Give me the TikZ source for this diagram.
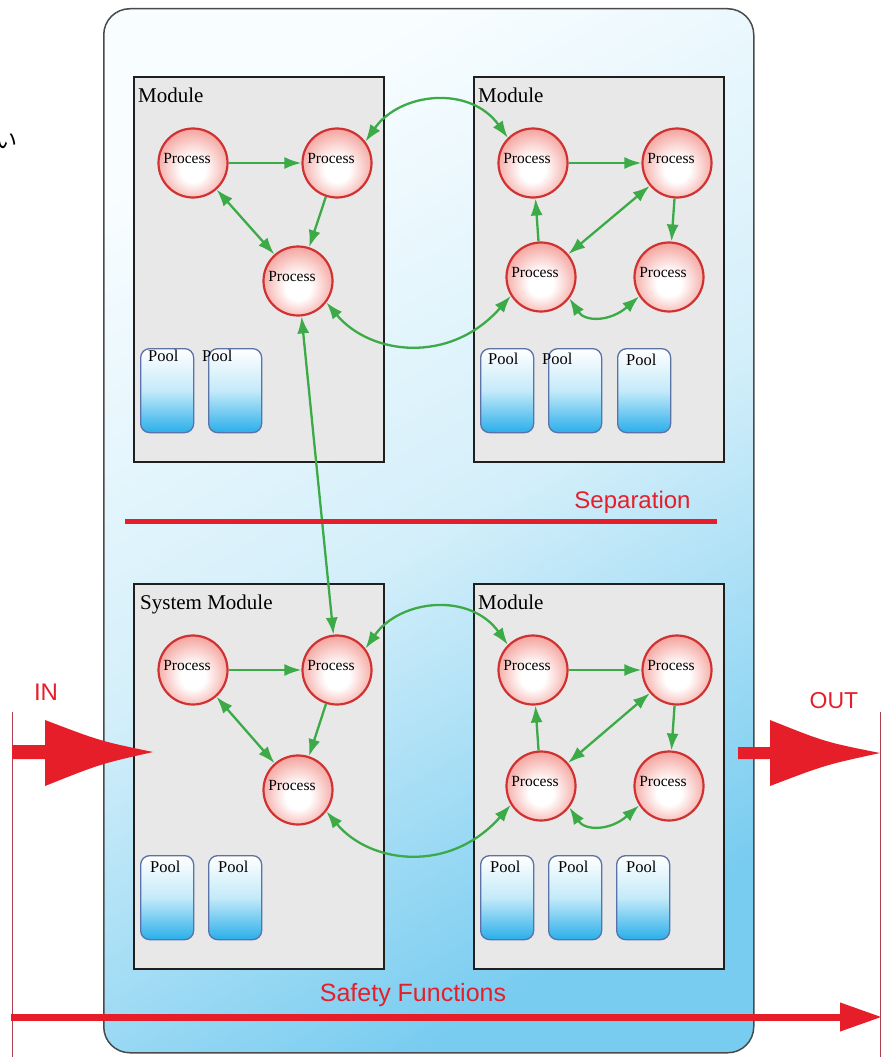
\documentclass[tikz,border=0pt]{standalone}
\usepackage{fontspec}
\setmainfont{Liberation Serif}
\newfontfamily\redsans{Liberation Sans}
\newfontfamily\cjkfont{Noto Sans CJK JP}
\usetikzlibrary{arrows.meta}
\definecolor{sysbd}{HTML}{4A4A4A}
\definecolor{systop}{HTML}{F8FDFF}
\definecolor{sysmid}{HTML}{D4EFFA}
\definecolor{sysbot}{HTML}{78CCF0}
\definecolor{modgray}{HTML}{E8E8E8}
\definecolor{procbd}{HTML}{D03232}
\definecolor{procmid}{HTML}{F4A29C}
\definecolor{procrim}{HTML}{EB6660}
\definecolor{procout}{HTML}{E65454}
\definecolor{poolbd}{HTML}{5A72A8}
\definecolor{poolmid}{HTML}{C4EAF9}
\definecolor{poolblue}{HTML}{2AAEEA}
\definecolor{grn}{HTML}{3BAA47}
\definecolor{redc}{HTML}{E61E2A}
\definecolor{thinred}{HTML}{B04050}
\pgfdeclareradialshading{procshade}{\pgfpoint{0bp}{-6bp}}{color(0bp)=(white); color(9bp)=(white); color(28bp)=(procmid); color(43bp)=(procrim); color(50bp)=(procout)}
\tikzset{
  sysbox/.style={draw=sysbd, line width=1.5pt, rounded corners=26pt,
    minimum width=650pt, minimum height=1044pt, inner sep=0pt, anchor=north west,
    top color=systop, bottom color=sysbot, middle color=sysmid, shading angle=30},
  modbox/.style={draw=black!88, line width=2pt, fill=modgray, minimum width=250pt,
    minimum height=385pt, inner sep=0pt, anchor=north west},
  modlabel/.style={font=\fontsize{21}{21}\selectfont, anchor=base west, inner sep=0pt},
  proc/.style={circle, draw=procbd, line width=2.2pt, shade, shading=procshade,
    minimum size=69pt, inner sep=0pt,
    label={[font=\fontsize{15.5}{15.5}\selectfont, xshift=-6pt, yshift=5pt, inner sep=0pt]center:Process}},
  poolbox/.style={draw=poolbd, line width=1.3pt, rounded corners=9pt, minimum width=53pt,
    minimum height=84pt, inner sep=0pt, anchor=north west,
    top color=white, bottom color=poolblue, middle color=poolmid},
  poollabel/.style={font=\fontsize{16.5}{16.5}\selectfont, anchor=base west, inner sep=0pt},
  garrow/.style={draw=grn, line width=2.3pt, -{Latex[length=17pt,width=12pt]}},
  gboth/.style={draw=grn, line width=2.3pt, {Latex[length=17pt,width=12pt]}-{Latex[length=17pt,width=12pt]}},
  redtext/.style={text=redc, inner sep=0pt, anchor=base},
  thinline/.style={draw=thinred, line width=0.9pt},
  bigred/.style={fill=redc},
}
\begin{document}
\begin{tikzpicture}[x=1pt,y=-1pt]
\useasboundingbox (0,0) rectangle (887,1057);
\fill[white] (0,0) rectangle (887,1057);

% partial glyph at the left edge
\node[font=\cjkfont\fontsize{22}{22}\selectfont, inner sep=0pt] (jp) at (6,141) {い};

% system frame
\node[sysbox] (sys) at (103,8) {};

% modules
\node[modbox] (m1) at (133,76) {};
\node[modbox] (m2) at (473,76) {};
\node[modbox] (m3) at (133,583) {};
\node[modbox] (m4) at (473,583) {};
\node[modlabel] (m1l) at (138,102) {Module};
\node[modlabel] (m2l) at (478,102) {Module};
\node[modlabel] (m3l) at (140,609) {System Module};
\node[modlabel] (m4l) at (478,609) {Module};

% pools
\node[poolbox] (p11) at (140,348) {};
\node[poolbox] (p12) at (208,348) {};
\node[poolbox] (p21) at (480,348) {};
\node[poolbox] (p22) at (548,348) {};
\node[poolbox] (p23) at (617,348) {};
\node[poolbox] (p31) at (140,855) {};
\node[poolbox] (p32) at (208,855) {};
\node[poolbox] (p41) at (480,855) {};
\node[poolbox] (p42) at (548,855) {};
\node[poolbox] (p43) at (616,855) {};
\node[poollabel] at (148,361) {Pool};
\node[poollabel] at (202,361) {Pool};
\node[poollabel] at (488,364) {Pool};
\node[poollabel] at (542,364) {Pool};
\node[poollabel] at (626,365) {Pool};
\node[poollabel] at (150,872) {Pool};
\node[poollabel] at (218,872) {Pool};
\node[poollabel] at (490,872) {Pool};
\node[poollabel] at (558,872) {Pool};
\node[poollabel] at (626,872) {Pool};

% processes
\node[proc] (tl1) at (193,163) {};
\node[proc] (tl2) at (337,163) {};
\node[proc] (tl3) at (298,281) {};
\node[proc] (tr1) at (533,163) {};
\node[proc] (tr2) at (677,163) {};
\node[proc] (tr3) at (541,277) {};
\node[proc] (tr4) at (669,277) {};
\node[proc] (bl1) at (193,670) {};
\node[proc] (bl2) at (337,670) {};
\node[proc] (bl3) at (298,790) {};
\node[proc] (br1) at (533,670) {};
\node[proc] (br2) at (677,670) {};
\node[proc] (br3) at (541,786) {};
\node[proc] (br4) at (669,786) {};

% green connectors, top half
\draw[garrow] (tl1) -- (tl2);
\draw[garrow] (tl2) -- (tl3);
\draw[gboth] (tl1) -- (tl3);
\draw[gboth] (tl2.37) .. controls (400,92) and (470,85) .. (tr1.135);
\draw[gboth] (tl3.-37) .. controls (370,355) and (450,365) .. (tr3.-148);
\draw[garrow] (tr1) -- (tr2);
\draw[garrow] (tr2) -- (tr4);
\draw[garrow] (tr3) -- (tr1);
\draw[gboth] (tr2) -- (tr3);
\draw[gboth] (tr3.-37) .. controls (585,322) and (610,322) .. (tr4.-147);
% between halves
\draw[gboth] (tl3) -- (bl2);
% bottom half
\draw[garrow] (bl1) -- (bl2);
\draw[garrow] (bl2) -- (bl3);
\draw[gboth] (bl1) -- (bl3);
\draw[gboth] (bl2.37) .. controls (400,599) and (470,592) .. (br1.135);
\draw[gboth] (bl3.-37) .. controls (370,864) and (450,874) .. (br3.-148);
\draw[garrow] (br1) -- (br2);
\draw[garrow] (br2) -- (br4);
\draw[garrow] (br3) -- (br1);
\draw[gboth] (br2) -- (br3);
\draw[gboth] (br3.-37) .. controls (585,831) and (610,831) .. (br4.-147);

% separation
\coordinate (sepL) at (125,521);
\coordinate (sepR) at (717,521);
\draw[draw=redc, line width=5pt] (sepL) -- (sepR);
\node[redtext, font=\redsans\fontsize{24}{24}\selectfont] (sepT) at (632.5,508) {Separation};

% thin boundary lines
\coordinate (lt) at (12,712);
\coordinate (lb) at (12,1057);
\coordinate (rt) at (880,712);
\coordinate (rb) at (880,1057);
\draw[thinline] (lt) -- (lb);
\draw[thinline] (rt) -- (rb);

% IN arrow
\fill[bigred] (12,745) -- (45,745) -- (45,720) .. controls (100,741) .. (153,752)
  .. controls (100,764) .. (45,786) -- (45,759) -- (12,759) -- cycle;
\node[redtext, font=\redsans\fontsize{24}{24}\selectfont] (inT) at (46,700) {IN};

% OUT arrow
\fill[bigred] (738,747) -- (770,747) -- (770,720) .. controls (825,742) .. (880,753)
  .. controls (825,765) .. (770,786) -- (770,759) -- (738,759) -- cycle;
\node[redtext, font=\redsans\fontsize{23}{23}\selectfont] (outT) at (834,708) {OUT};

% safety functions
\coordinate (sfL) at (11,1017);
\coordinate (sfR) at (882,1017);
\draw[draw=redc, line width=7pt, -{Triangle[length=42pt,width=27pt]}] (sfL) -- (sfR);
\node[redtext, font=\redsans\fontsize{25}{25}\selectfont] (sfT) at (413,1001) {Safety Functions};
\end{tikzpicture}
\end{document}
